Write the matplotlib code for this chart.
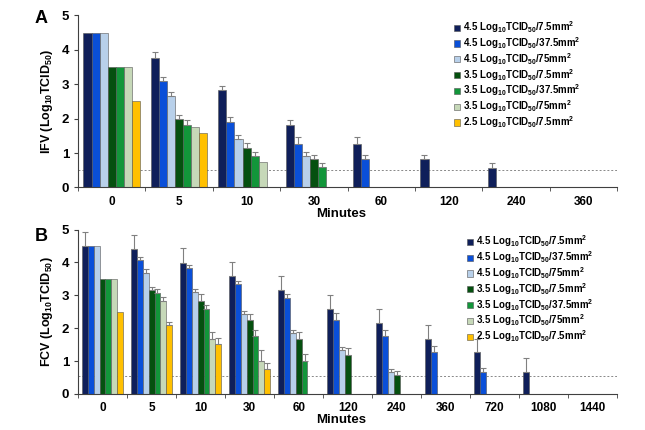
import numpy as np
import matplotlib.pyplot as plt

plt.rcParams['font.family'] = ['Liberation Sans', 'DejaVu Sans']
plt.rcParams['font.weight'] = 'bold'
plt.rcParams['mathtext.fontset'] = 'custom'
plt.rcParams['mathtext.rm'] = 'Liberation Sans:bold'
plt.rcParams['mathtext.it'] = 'Liberation Sans:bold'
plt.rcParams['mathtext.bf'] = 'Liberation Sans:bold'

nan = np.nan

# series labels and colours
labels = ['4.5 Log$_{10}$TCID$_{50}$/7.5mm$^2$',
          '4.5 Log$_{10}$TCID$_{50}$/37.5mm$^2$',
          '4.5 Log$_{10}$TCID$_{50}$/75mm$^2$',
          '3.5 Log$_{10}$TCID$_{50}$/7.5mm$^2$',
          '3.5 Log$_{10}$TCID$_{50}$/37.5mm$^2$',
          '3.5 Log$_{10}$TCID$_{50}$/75mm$^2$',
          '2.5 Log$_{10}$TCID$_{50}$/7.5mm$^2$']
colors = ['#0f1f5a', '#0a4fd8', '#b8d0ea', '#05500f', '#12963a', '#c6d8b8', '#ffc000']

# panel A - IFV
cats_a = ['0', '5', '10', '30', '60', '120', '240', '360']
ifv_1 = [4.5, 3.75, 2.84, 1.82, 1.25, 0.83, 0.58, nan]
ifv_2 = [4.5, 3.09, 1.91, 1.26, 0.83, nan, nan, nan]
ifv_3 = [4.5, 2.66, 1.41, 0.91, nan, nan, nan, nan]
ifv_4 = [3.5, 2.00, 1.16, 0.82, nan, nan, nan, nan]
ifv_5 = [3.5, 1.83, 0.92, 0.59, nan, nan, nan, nan]
ifv_6 = [3.5, 1.75, 0.75, nan, nan, nan, nan, nan]
ifv_7 = [2.5, 1.58, nan, nan, nan, nan, nan, nan]
ifv_err1 = [0, 0.20, 0.12, 0.13, 0.21, 0.12, 0.13, 0]
ifv_err2 = [0, 0.12, 0.13, 0.21, 0.12, 0, 0, 0]
ifv_err3 = [0, 0.12, 0.12, 0.12, 0, 0, 0, 0]
ifv_err4 = [0, 0.11, 0.13, 0.12, 0, 0, 0, 0]
ifv_err5 = [0, 0.12, 0.10, 0.12, 0, 0, 0, 0]
ifv_err6 = [0, 0, 0, 0, 0, 0, 0, 0]
ifv_err7 = [0, 0, 0, 0, 0, 0, 0, 0]

# panel B - FCV
cats_b = ['0', '5', '10', '30', '60', '120', '240', '360', '720', '1080', '1440']
fcv_1 = [4.5, 4.41, 3.99, 3.59, 3.16, 2.57, 2.16, 1.66, 1.26, 0.67, nan]
fcv_2 = [4.5, 4.08, 3.83, 3.33, 2.92, 2.25, 1.75, 1.26, 0.66, nan, nan]
fcv_3 = [4.5, 3.67, 3.09, 2.42, 1.84, 1.33, 0.66, nan, nan, nan, nan]
fcv_4 = [3.5, 3.15, 2.82, 2.25, 1.67, 1.18, 0.58, nan, nan, nan, nan]
fcv_5 = [3.5, 3.08, 2.57, 1.75, 1.00, nan, nan, nan, nan, nan, nan]
fcv_6 = [3.5, 2.82, 1.66, 1.00, nan, nan, nan, nan, nan, nan, nan]
fcv_7 = [2.5, 2.09, 1.51, 0.75, nan, nan, nan, nan, nan, nan, nan]
fcv_err1 = [0.43, 0.42, 0.44, 0.41, 0.43, 0.43, 0.42, 0.43, 0.42, 0.42, 0]
fcv_err2 = [0, 0.09, 0.10, 0.11, 0.11, 0.20, 0.20, 0.20, 0.12, 0, 0]
fcv_err3 = [0, 0.12, 0.10, 0.11, 0.11, 0.11, 0.11, 0, 0, 0, 0]
fcv_err4 = [0, 0.11, 0.23, 0.19, 0.22, 0.22, 0.13, 0, 0, 0, 0]
fcv_err5 = [0, 0.11, 0.13, 0.20, 0.20, 0, 0, 0, 0, 0, 0]
fcv_err6 = [0, 0.12, 0.23, 0.35, 0, 0, 0, 0, 0, 0, 0]
fcv_err7 = [0, 0.11, 0.18, 0.20, 0, 0, 0, 0, 0, 0, 0]

limit_a = 0.52
limit_b = 0.53

fig = plt.figure(figsize=(6.45, 4.3), dpi=100)
ax_a = fig.add_axes([0.121, 0.564, 0.836, 0.400])
ax_b = fig.add_axes([0.121, 0.084, 0.836, 0.382])


def draw_panel(ax, cats, series, errs, limit, ylabel, letter, letter_y, legend_xy):
    n = len(series)
    w = 0.12
    x = np.arange(len(cats))
    for i in range(n):
        pos = x - 0.42 + w * (i + 0.5)
        vals = np.array(series[i], dtype=float)
        ax.bar(pos, vals, width=w, color=colors[i], edgecolor='#555555',
               linewidth=0.4, label=labels[i], zorder=2)
        e = np.array(errs[i], dtype=float)
        m = (e > 0) & ~np.isnan(vals)
        ax.errorbar(pos[m], vals[m], yerr=[np.zeros(m.sum()), e[m]], fmt='none',
                    ecolor='#808080', elinewidth=0.8, capsize=2, capthick=0.8, zorder=3)
    ax.axhline(limit, color='#888888', linestyle=(0, (2, 2)), linewidth=0.7, zorder=1)
    ax.set_xlim(-0.5, len(cats) - 0.5)
    ax.set_ylim(0, 5)
    ax.set_yticks(range(6))
    ax.set_xticks(x)
    ax.set_xticklabels(cats, fontsize=8.5, fontweight='bold')
    ax.set_xticks(np.arange(len(cats) + 1) - 0.5, minor=True)
    ax.tick_params(axis='x', which='major', length=0, pad=6)
    ax.tick_params(axis='x', which='minor', length=3, direction='out', color='#404040')
    ax.tick_params(axis='y', length=3, direction='out', labelsize=9.5, color='#404040')
    for t in ax.get_yticklabels():
        t.set_fontweight('bold')
    ax.spines['top'].set_visible(False)
    ax.spines['right'].set_visible(False)
    ax.spines['left'].set_color('#404040')
    ax.spines['bottom'].set_color('#404040')
    ax.set_xlabel('Minutes', fontsize=9.5, fontweight='bold', labelpad=0)
    ax.xaxis.label.set_x(0.488)
    ax.set_ylabel(ylabel, fontsize=9, fontweight='bold', labelpad=5)
    ax.text(-0.08, letter_y, letter, transform=ax.transAxes, fontsize=13,
            fontweight='bold', va='center', ha='left')
    ax.legend(loc='upper left', bbox_to_anchor=legend_xy, frameon=False,
              prop={'size': 7.0, 'weight': 'bold'}, handlelength=0.6,
              handleheight=0.6, handletextpad=0.3, labelspacing=0.0,
              borderaxespad=0)


draw_panel(ax_a, cats_a,
           [ifv_1, ifv_2, ifv_3, ifv_4, ifv_5, ifv_6, ifv_7],
           [ifv_err1, ifv_err2, ifv_err3, ifv_err4, ifv_err5, ifv_err6, ifv_err7],
           limit_a, 'IFV (Log$_{10}$TCID$_{50}$)', 'A', 0.985, (0.69, 1.0))
draw_panel(ax_b, cats_b,
           [fcv_1, fcv_2, fcv_3, fcv_4, fcv_5, fcv_6, fcv_7],
           [fcv_err1, fcv_err2, fcv_err3, fcv_err4, fcv_err5, fcv_err6, fcv_err7],
           limit_b, 'FCV (Log$_{10}$TCID$_{50}$)', 'B', 0.96, (0.715, 1.0))

plt.savefig('out.png', dpi=100)
